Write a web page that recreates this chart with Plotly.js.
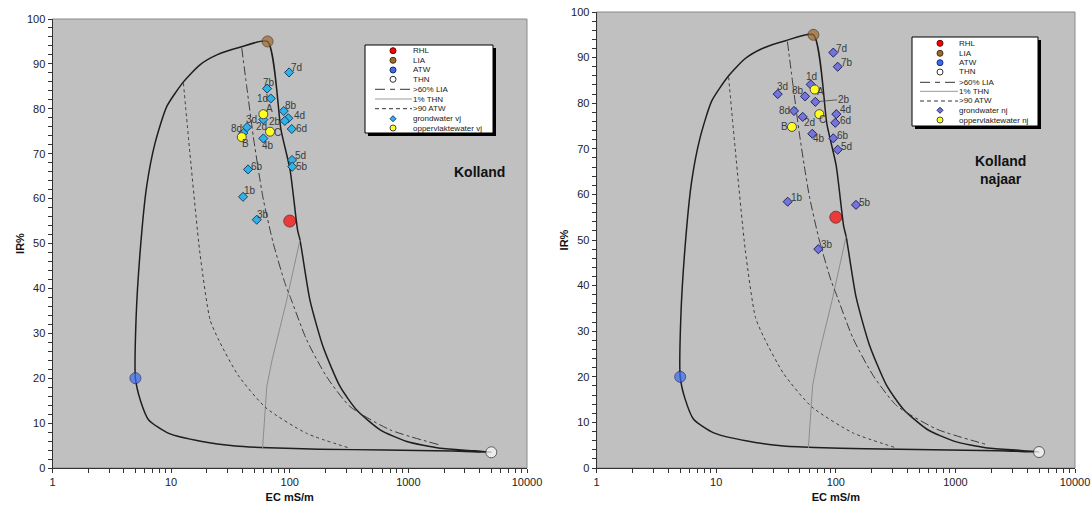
<!DOCTYPE html>
<html><head><meta charset="utf-8">
<script src="https://cdn.plot.ly/plotly-3.0.1.min.js"></script>
<style>html,body{margin:0;padding:0;background:#fff;}#chart{width:1092px;height:508px;}</style>
</head><body><div id="chart"></div>
<script>
// ---------- data ----------
// envelope curve (THN -> ATW -> LIA -> THN)
const envelopeEC = [5000, 2335, 640, 176, 66.5, 34.8, 18.2, 9.55, 6.47, 5.5, 5, 5.06, 5.47, 6.22, 7.31, 9.18, 12.7, 17.5, 24.3, 38, 65, 84.4, 100.6, 116.4, 122, 148, 191, 266, 367, 578, 970, 1850, 3510, 5000];
const envelopeIR = [3.5, 3.8, 4.0, 4.2, 4.5, 4.9, 5.9, 7.7, 10.7, 15.1, 20, 33, 47.9, 62.7, 72.3, 80.5, 86, 89.8, 92, 93.7, 95, 75.3, 66.4, 53, 50.8, 37.4, 27, 18.1, 12.9, 8.5, 5.9, 4.4, 3.85, 3.5];
// >60% LIA
const lia60EC = [39.4, 43.4, 49.3, 54.4, 60, 72.7, 91.3, 100.6, 139, 205, 322, 701, 1855];
const lia60IR = [93.5, 84.9, 73.8, 66.4, 59.7, 50, 41.1, 38.2, 28.5, 20.3, 13.7, 8.5, 5.1];
// 1% THN
const thn1EC = [59, 64, 71, 93, 122];
const thn1IR = [4.4, 18.1, 24.1, 36.7, 50.8];
// >90 ATW
const atw90EC = [12.7, 14.4, 17.5, 21.3, 25.2, 36.6, 63, 139, 322];
const atw90IR = [85.7, 70.1, 47.8, 33, 28.5, 20.7, 13.4, 7.7, 4.4];
// reference waters
const refNames = ['RHL', 'LIA', 'ATW', 'THN'];
const refEC = [100, 65, 5, 5000];
const refIR = [55, 95, 20, 3.5];

// Kolland voorjaar (vj)
const gwVjLabels = ['7d', '7b', '1d', '8b', '4d', '2b', '6d', '2d', '3d', '8d', '4b', '5d', '5b', '6b', '1b', '3b'];
const gwVjEC = [98.7, 64.4, 69.2, 89, 97.3, 90.8, 104, 59.9, 43.6, 40.6, 59.9, 104.5, 105, 44.5, 40.4, 52.7];
const gwVjIR = [88.1, 84.5, 82.3, 79.5, 77.9, 77.3, 75.5, 77.6, 75.9, 74.6, 73.4, 68.6, 67.1, 66.5, 60.4, 55.3];
const owVjLabels = ['A', 'B', 'C'];
const owVjEC = [59.9, 39.4, 68.2];
const owVjIR = [78.8, 73.7, 74.9];

// Kolland najaar (nj)
const gwNjLabels = ['7d', '7b', '1d', '3d', '8b', '2b', '4d', '8d', '6d', '2d', '4b', '6b', '5d', '1b', '5b', '3b'];
const gwNjEC = [95.3, 103.7, 61.7, 32.7, 55.3, 67.4, 101, 44.7, 99, 52.9, 63.6, 95.3, 103.7, 39.6, 147.5, 71.4];
const gwNjIR = [91.1, 88.0, 84.1, 82.0, 81.5, 80.3, 77.6, 78.3, 75.7, 77.0, 73.3, 72.3, 69.8, 58.4, 57.7, 48.0];
const owNjLabels = ['A', 'B', 'C'];
const owNjEC = [66.6, 43, 72.8];
const owNjIR = [83.0, 74.8, 77.6];

const ecTickLabels = ['1', '10', '100', '1000', '10000'];
const irTickLabels = ['0', '10', '20', '30', '40', '50', '60', '70', '80', '90', '100'];

// ---------- styling / label placement (pixel offsets of label centre from marker) ----------
const gwVjOff = [[7.7,-5],[2,-6],[-8,0],[7.3,-6],[10.7,-3],[-9.7,0.7],[9.3,-0.7],[-1.7,7],[4.7,-7.3],[-6.7,-4.7],[5,6.7],[8.7,-4],[9.3,0],[8.7,-2.7],[7,-6.3],[6,-5.3]];
const owVjOff = [[5.7,-5.3],[4,6.3],[7.3,1]];
const gwNjOff = [[8.3,-4.3],[9,-4],[1,-7.7],[5,-7.3],[-6.7,-5.7],null,[8.7,-4.3],[-9,0],[10,-2.3],[6.3,6],[6.7,4.3],[10,-3.3],[9,-3.7],[9.7,-4.3],[9,-2.7],[9,-4.3]];
const owNjOff = [[6,2.3],[-7,0],[3,5.7]];
const refColors = ['#ff0000', '#9c6a30', '#3a6cf0', '#ffffff'];
const refLines = ['#6a0000', '#4a3010', '#1a2a70', '#333333'];

const W = 1092, H = 508;
const px = v => v / W;
const py = v => 1 - v / H;
const FONT = 'Liberation Sans, Arial, sans-serif';
const labelFont = {family: FONT, size: 10, color: '#3a3a3a'};

// ticks
const ecTickVals = [], ecTickText = [];
for (let d = 0; d < 4; d++) {
  for (let m = 1; m <= 9; m++) {
    ecTickVals.push(m * Math.pow(10, d));
    ecTickText.push(m === 1 ? ecTickLabels[d] : '');
  }
}
ecTickVals.push(10000); ecTickText.push(ecTickLabels[4]);
const irTickVals = [], irTickText = [];
for (let v = 0; v <= 100; v += 2) {
  irTickVals.push(v);
  irTickText.push(v % 10 === 0 ? irTickLabels[v / 10] : '');
}

const shapes = [];
const annotations = [];

function labels(xa, ya, ec, ir, lab, off) {
  lab.forEach((t, i) => {
    if (!off[i]) return;
    annotations.push({xref: xa, yref: ya, x: Math.log10(ec[i]), y: ir[i], text: t, showarrow: false,
      xanchor: 'center', yanchor: 'middle', xshift: off[i][0], yshift: -off[i][1], font: labelFont, borderpad: 0});
  });
}

function panel(xa, ya, gwEC, gwIR, gwLab, gwOff, gwFill, gwLine, owEC, owIR, owLab, owOff) {
  const t = [];
  t.push({x: envelopeEC, y: envelopeIR, xaxis: xa, yaxis: ya, mode: 'lines', line: {color: '#1e1e1e', width: 1.5, shape: 'spline', smoothing: 0.6}, hoverinfo: 'skip'});
  t.push({x: thn1EC, y: thn1IR, xaxis: xa, yaxis: ya, mode: 'lines', line: {color: '#8c8c8c', width: 1}, hoverinfo: 'skip'});
  t.push({x: atw90EC, y: atw90IR, xaxis: xa, yaxis: ya, mode: 'lines', line: {color: '#3c3c3c', width: 1, dash: '3px,3px', shape: 'spline', smoothing: 0.6}, hoverinfo: 'skip'});
  t.push({x: lia60EC, y: lia60IR, xaxis: xa, yaxis: ya, mode: 'lines', line: {color: '#3c3c3c', width: 1, dash: '9px,3px,3px,3px', shape: 'spline', smoothing: 0.6}, hoverinfo: 'skip'});
  t.push({x: gwEC, y: gwIR, xaxis: xa, yaxis: ya, mode: 'markers', cliponaxis: false,
    marker: {symbol: 'diamond', size: 7, color: gwFill, line: {color: gwLine, width: 1}}});
  t.push({x: owEC, y: owIR, xaxis: xa, yaxis: ya, mode: 'markers', cliponaxis: false,
    marker: {symbol: 'circle', size: 9, color: '#ffff22', line: {color: '#4a4a4a', width: 1}}});
  t.push({x: refEC, y: refIR, xaxis: xa, yaxis: ya, mode: 'markers', cliponaxis: false,
    marker: {symbol: 'circle', size: [12, 11, 11, 11], color: refColors, line: {color: refLines, width: 1}}});
  labels(xa, ya, gwEC, gwIR, gwLab, gwOff);
  labels(xa, ya, owEC, owIR, owLab, owOff);
  return t;
}

const traces = [].concat(
  panel('x', 'y', gwVjEC, gwVjIR, gwVjLabels, gwVjOff, '#2fb2e4', '#1b3e66', owVjEC, owVjIR, owVjLabels, owVjOff),
  panel('x2', 'y2', gwNjEC, gwNjIR, gwNjLabels, gwNjOff, '#7474dc', '#23235e', owNjEC, owNjIR, owNjLabels, owNjOff)
);

// 2b label with leader line (najaar)
const i2b = gwNjLabels.indexOf('2b');
annotations.push({xref: 'x2', yref: 'y2', x: Math.log10(gwNjEC[i2b]), y: gwNjIR[i2b], text: '2b', showarrow: true, arrowhead: 0, arrowwidth: 0.8, arrowcolor: '#444', ax: 22, ay: -2, xanchor: 'left', standoff: 4, font: labelFont, borderpad: 0});

// ---------- legends (drawn as shapes + annotations) ----------
function legend(box, symX, l0, l1, textX, ys, gwName, owName, gwFill, gwLine) {
  const [x0, y0, x1, y1] = box;
  shapes.push({type: 'rect', xref: 'paper', yref: 'paper', x0: px(x0 + 3), x1: px(x1 + 3), y0: py(y0 + 3), y1: py(y1 + 3), fillcolor: '#000', line: {width: 0}, layer: 'above'});
  shapes.push({type: 'rect', xref: 'paper', yref: 'paper', x0: px(x0), x1: px(x1), y0: py(y0), y1: py(y1), fillcolor: '#fff', line: {color: '#000', width: 1}, layer: 'above'});
  const circ = (y, fill, lc) => shapes.push({type: 'circle', xref: 'paper', yref: 'paper', x0: px(symX - 3), x1: px(symX + 3), y0: py(y - 3), y1: py(y + 3), fillcolor: fill, line: {color: lc, width: 1}, layer: 'above'});
  for (let k = 0; k < 4; k++) circ(ys[k], refColors[k], refLines[k]);
  const ln = (y, color, dash) => shapes.push({type: 'line', xref: 'paper', yref: 'paper', x0: px(l0), x1: px(l1), y0: py(y), y1: py(y), line: {color: color, width: 1, dash: dash}, layer: 'above'});
  ln(ys[4], '#333', '10px,5px,5px,5px');
  ln(ys[5], '#999', 'solid');
  ln(ys[6], '#333', '4px,3px');
  const d = 3;
  shapes.push({type: 'path', xref: 'paper', yref: 'paper', layer: 'above', fillcolor: gwFill, line: {color: gwLine, width: 1},
    path: `M ${px(symX)} ${py(ys[7] - d)} L ${px(symX + d)} ${py(ys[7])} L ${px(symX)} ${py(ys[7] + d)} L ${px(symX - d)} ${py(ys[7])} Z`});
  circ(ys[8], '#ffff22', '#4a4a4a');
  const names = refNames.concat(['>60% LIA', '1% THN', '>90 ATW', gwName, owName]);
  names.forEach((n, i) => annotations.push({xref: 'paper', yref: 'paper', x: px(textX), y: py(ys[i]), text: n, showarrow: false, xanchor: 'left', yanchor: 'middle', borderpad: 0, font: {family: FONT, size: 8, color: '#222'}}));
}
legend([365, 45, 493, 133], 393, 375, 412, 412, [50.7, 60.3, 70, 79.3, 89.3, 99, 108.7, 118.7, 128], 'grondwater vj', 'oppervlaktewater vj', '#2fb2e4', '#1b3e66');
legend([912, 37, 1038, 126], 940, 920, 958, 958, [43.3, 53.3, 62.7, 72, 82.3, 91.3, 101, 110.3, 120], 'grondwater nj', 'oppervlaktewater nj', '#7474dc', '#23235e');

// plot-area frames
['x', 'x2'].forEach((xa, i) => {
  shapes.push({type: 'rect', xref: xa + ' domain', yref: (i ? 'y2' : 'y') + ' domain', x0: 0, x1: 1, y0: 0, y1: 1, line: {color: '#8a8a8a', width: 1}, layer: 'below'});
});

annotations.push({xref: 'paper', yref: 'paper', x: px(479), y: py(172), text: '<b>Kolland</b>', showarrow: false, xanchor: 'center', yanchor: 'middle', font: {family: FONT, size: 14, color: '#111'}});
annotations.push({xref: 'paper', yref: 'paper', x: px(1000), y: py(170), text: '<b>Kolland<br>najaar</b>', showarrow: false, xanchor: 'center', yanchor: 'middle', font: {family: FONT, size: 14, color: '#111'}});

function xAxis(domain, anchor) {
  return {type: 'log', range: [0, 4], domain: domain, anchor: anchor, tickvals: ecTickVals, ticktext: ecTickText,
    ticks: 'outside', ticklen: 4, tickcolor: '#333', showline: true, linecolor: '#333', linewidth: 1, showgrid: false, zeroline: false,
    tickfont: {family: FONT, size: 11, color: '#222'}, title: {text: '<b>EC mS/m</b>', font: {family: FONT, size: 11, color: '#111'}, standoff: 6}, fixedrange: true};
}
function yAxis(domain, anchor) {
  return {range: [0, 100], domain: domain, anchor: anchor, tickvals: irTickVals, ticktext: irTickText,
    ticks: 'outside', ticklen: 4, tickcolor: '#333', showline: true, linecolor: '#333', linewidth: 1, showgrid: false, zeroline: false,
    tickfont: {family: FONT, size: 11, color: '#222'}, title: {text: '<b>IR%</b>', font: {family: FONT, size: 11, color: '#111'}, standoff: 0}, fixedrange: true};
}

const layout = {
  width: W, height: H, autosize: false,
  margin: {l: 0, r: 0, t: 0, b: 0},
  paper_bgcolor: '#ffffff', plot_bgcolor: '#c0c0c0',
  showlegend: false,
  font: {family: FONT},
  xaxis: xAxis([px(52.5), px(527)], 'y'),
  yaxis: yAxis([py(468), py(19)], 'x'),
  xaxis2: xAxis([px(596.6), px(1075)], 'y2'),
  yaxis2: yAxis([py(468), py(12)], 'x2'),
  shapes: shapes,
  annotations: annotations
};

Plotly.newPlot('chart', traces, layout, {staticPlot: true, displayModeBar: false});
</script>
</body></html>
